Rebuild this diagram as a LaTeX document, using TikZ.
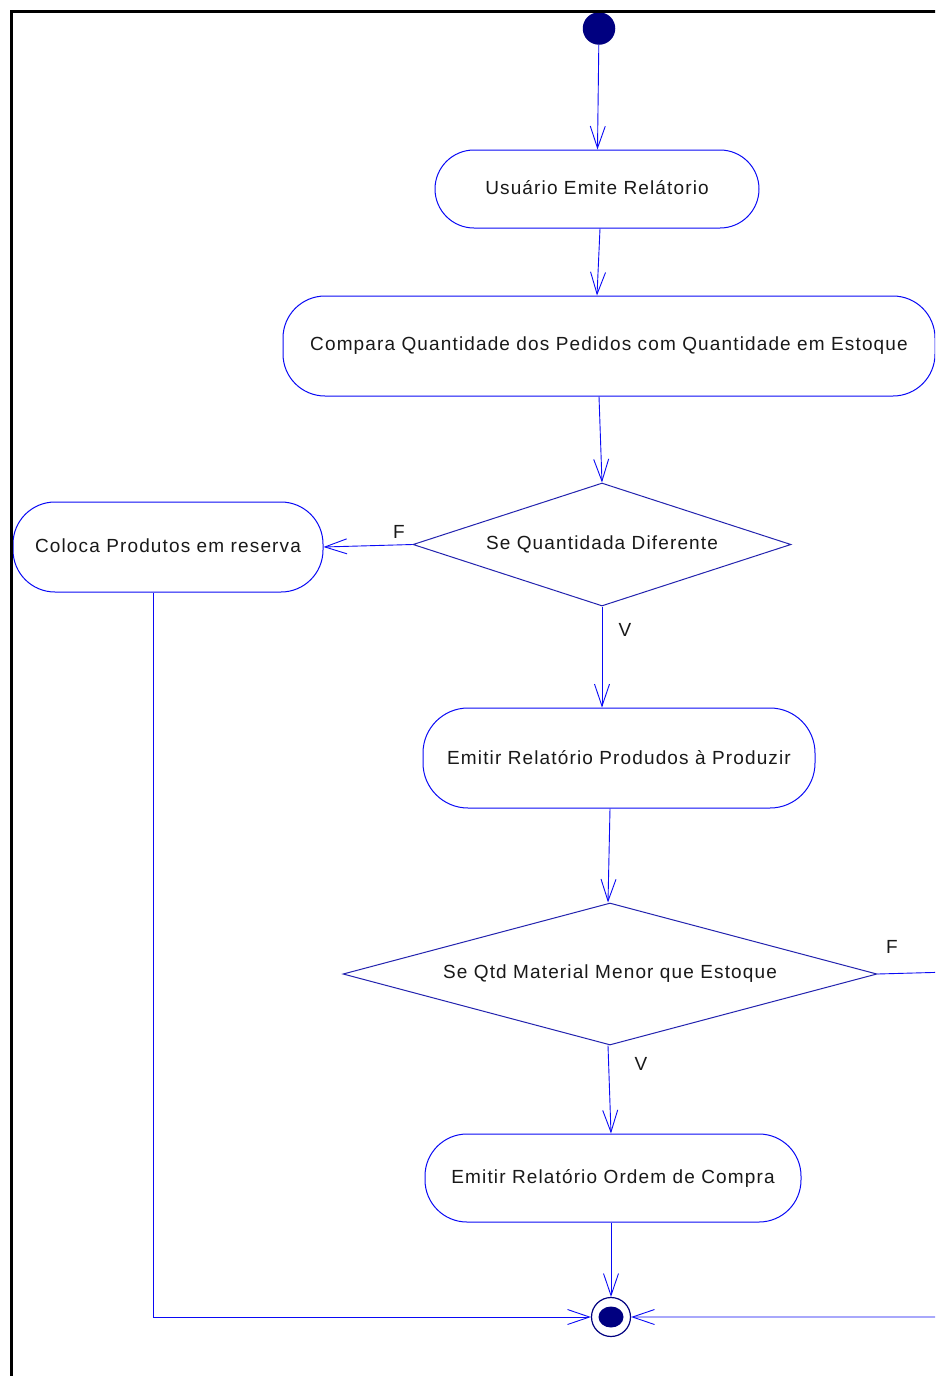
\documentclass[tikz,border=0pt]{standalone}
\usepackage{fontspec}
\newfontfamily\lbl[LetterSpace=6]{Liberation Sans}
\usetikzlibrary{arrows.meta,shapes.geometric,calc}
\definecolor{lineblue}{RGB}{10,10,245}
\definecolor{diablue}{RGB}{35,35,175}
\definecolor{umlnavy}{RGB}{0,0,128}
\tikzset{
  txt/.style={font=\lbl\fontsize{19}{23}\selectfont, text=black!90},
  actbox/.style={txt, draw=lineblue, line width=1pt, rectangle, inner sep=0pt},
  decbox/.style={txt, draw=diablue, line width=1pt, diamond, inner sep=0pt},
  flow/.style={draw=lineblue, line width=0.9pt, -{Straight Barb[length=22pt,width=15pt]}},
  lab/.style={txt, inner sep=0pt},
}
\begin{document}
\begin{tikzpicture}[x=1pt,y=-1pt]
\useasboundingbox (0,0) rectangle (935,1376);
\clip (0,0) rectangle (935,1376);
\fill[white] (0,0) rectangle (935,1376);

\node[circle, fill=umlnavy, minimum size=32.5pt, inner sep=0pt] (start) at (599,28.5) {};

\node[actbox, minimum width=324pt, minimum height=78pt, rounded corners=39pt] (act1) at (597,189) {\raisebox{2pt}{Usuário Emite Relátorio}};
\node[actbox, minimum width=652pt, minimum height=100pt, rounded corners=42pt] (act2) at (609,346) {\raisebox{1pt}{Compara Quantidade dos Pedidos com Quantidade em Estoque}};
\node[decbox, aspect=3.07, minimum width=378pt, minimum height=123pt] (d1) at (602,544.5) {\raisebox{2pt}{Se Quantidada Diferente}};
\node[actbox, minimum width=310pt, minimum height=90pt, rounded corners=42pt] (act3) at (168,547) {\raisebox{2pt}{Coloca Produtos em reserva}};
\node[actbox, minimum width=392pt, minimum height=100pt, rounded corners=45pt] (act4) at (619,758) {\raisebox{1pt}{Emitir Relatório Produdos à Produzir}};
\node[decbox, aspect=3.76, minimum width=534pt, minimum height=142pt] (d2) at (610,974) {\raisebox{3pt}{Se Qtd Material Menor que Estoque}};
\node[actbox, minimum width=376pt, minimum height=88pt, rounded corners=42pt] (act5) at (613,1178) {\raisebox{1pt}{Emitir Relatório Ordem de Compra}};

\node[circle, draw=umlnavy, line width=1.2pt, minimum size=39pt, inner sep=0pt] (end) at (611,1317) {};
\node[ellipse, fill=umlnavy, minimum width=25pt, minimum height=21pt, inner sep=0pt] (endin) at (end.center) {};

\node[lab] (lf1) at (399,532) {F};
\node[lab] (lv1) at (625,630) {V};
\node[lab] (lf2) at (892,947) {F};
\node[lab] (lv2) at (641,1064) {V};

\coordinate (offr) at (950,972);

\draw[flow] (start) -- (act1);
\draw[flow] ([xshift=3pt]act1.south) -- ([xshift=-12pt]act2.north);
\draw[flow] ([xshift=-10pt]act2.south) -- (d1.north);
\draw[flow] (d1.west) -- (act3.east);
\draw[flow] (d1.south) -- ([xshift=-17pt]act4.north);
\draw[flow] ([xshift=-9pt]act4.south) -- ([xshift=-2pt]d2.north);
\draw[flow] ([xshift=-2pt]d2.south) -- ([xshift=-2pt]act5.north);
\draw[flow] ([xshift=-2pt]act5.south) -- (end.north);
\draw[flow] ([xshift=-15pt]act3.south) |- (end.west);
\draw[flow] (d2.east) -- (offr) |- (end.east);

\draw[line width=3pt, black] (11.5,1400) -- (11.5,11.5) -- (960,11.5);
\end{tikzpicture}
\end{document}
